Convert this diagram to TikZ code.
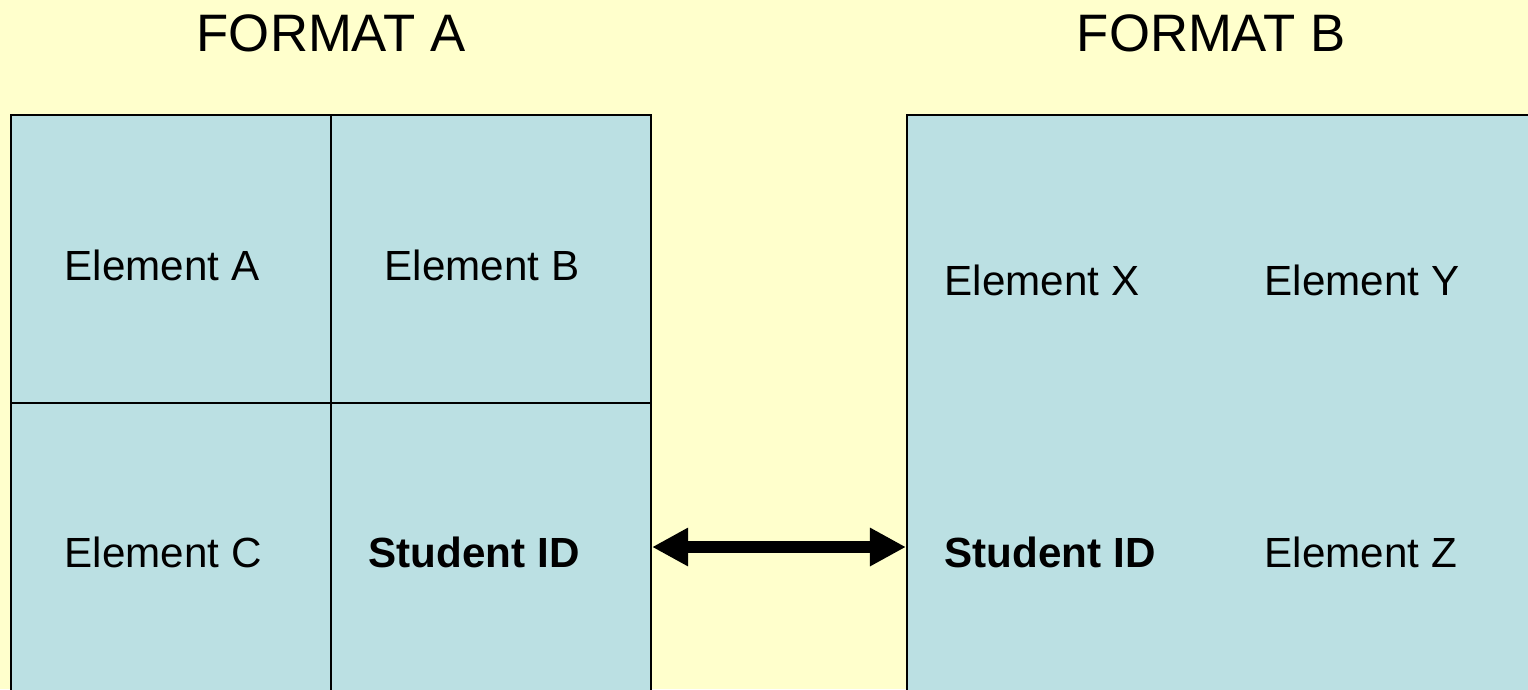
\documentclass[tikz,border=0pt]{standalone}
\usepackage{fontspec}
\setmainfont{Liberation Sans}
\usetikzlibrary{arrows.meta}
\definecolor{bgyellow}{RGB}{255,255,204}
\definecolor{cellblue}{RGB}{187,224,227}
\begin{document}
\begin{tikzpicture}[
    cell/.style={draw, fill=cellblue, line width=0.6pt, minimum width=3.2cm, inner sep=0pt},
    elem/.style={anchor=west, inner sep=0pt, font=\fontsize{12}{14}\selectfont},
    heading/.style={inner sep=0pt, font=\fontsize{15}{18}\selectfont},
    biarrow/.style={{Triangle[length=3.6mm,width=3.6mm]}-{Triangle[length=3.6mm,width=3.6mm]}, line width=1.2mm}
  ]
    \fill[bgyellow] (0,0) rectangle (15.28,6.89);
    \useasboundingbox (0,0) rectangle (15.28,6.89);
    \clip (0,0) rectangle (15.28,6.89);

    % format A: four cells
    \node[cell, minimum height=2.88cm] (cellA) at (1.71,4.30) {};
    \node[cell, minimum height=2.88cm] (cellB) at (4.91,4.30) {};
    \node[cell, minimum height=3.36cm] (cellC) at (1.71,1.18) {};
    \node[cell, minimum height=3.36cm] (cellD) at (4.91,1.18) {};

    % format B: one block
    \node[cell, minimum width=6.93cm, minimum height=6.24cm] (boxB) at (12.535,2.62) {};

    \node[heading] (headA) at (3.31,6.56) {FORMAT A};
    \node[heading] (headB) at (12.11,6.56) {FORMAT B};

    \node[elem] (elemA) at (0.64,4.24) {Element A};
    \node[elem] (elemB) at (3.84,4.24) {Element B};
    \node[elem] (elemC) at (0.64,1.37) {Element C};
    \node[elem] (sidA) at (3.68,1.37) {\bfseries Student ID};

    \node[elem] (elemX) at (9.44,4.09) {Element X};
    \node[elem] (elemY) at (12.64,4.09) {Element Y};
    \node[elem] (sidB) at (9.44,1.37) {\bfseries Student ID};
    \node[elem] (elemZ) at (12.64,1.37) {Element Z};

    % link between the two ids
    \draw[biarrow] (cellD.east |- 0,1.42) -- (boxB.west |- 0,1.42);
\end{tikzpicture}
\end{document}
